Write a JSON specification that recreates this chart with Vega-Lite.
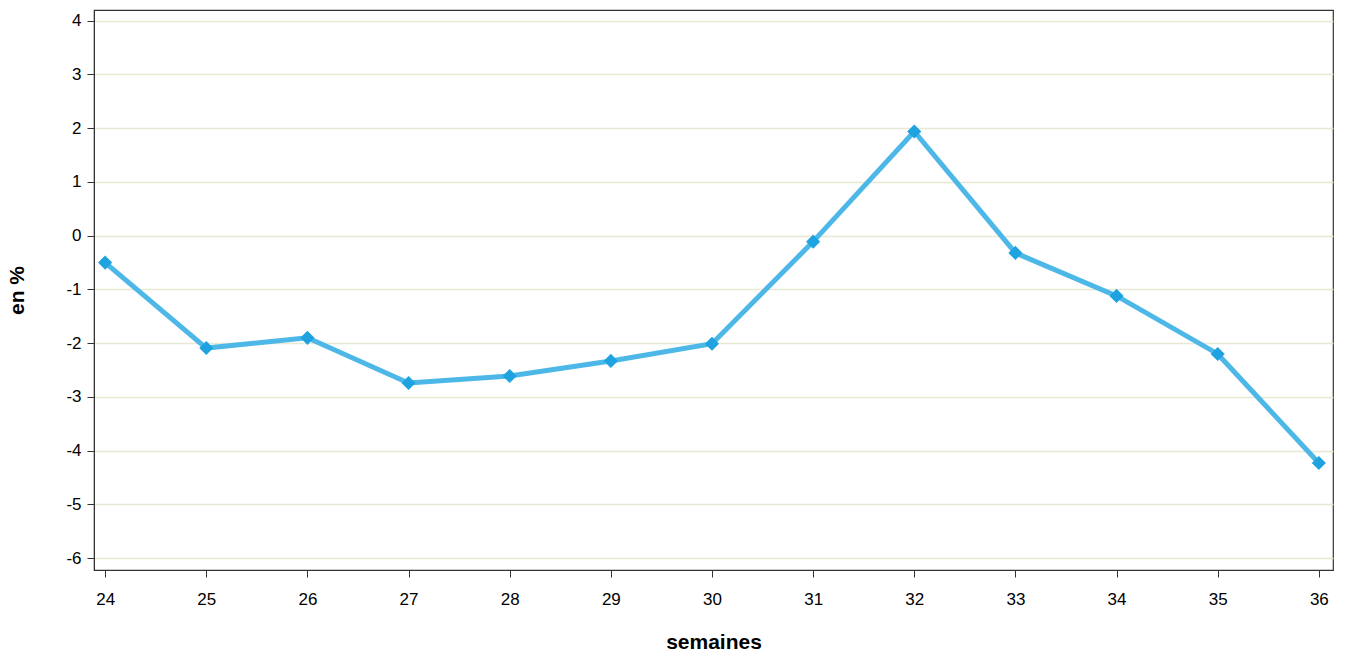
{
"$schema":"https://vega.github.io/schema/vega-lite/v6.json",
"autosize":{"type":"none"},
"padding":{"left":94,"top":10,"right":12,"bottom":85},
"width":1239,"height":560,
"background":"white",
"config":{"font":"Liberation Sans","view":{"stroke":"#333","strokeWidth":1.2},
"axis":{"labelFontSize":17,"labelColor":"#000","titleFontSize":21,"titleFontWeight":"bold","titleColor":"#000","domainColor":"#333","tickColor":"#333","tickSize":7}},
"data":{"values":[
{"s":24,"v":-0.50},{"s":25,"v":-2.09},{"s":26,"v":-1.90},{"s":27,"v":-2.74},{"s":28,"v":-2.61},{"s":29,"v":-2.33},{"s":30,"v":-2.01},{"s":31,"v":-0.11},{"s":32,"v":1.94},{"s":33,"v":-0.32},{"s":34,"v":-1.12},{"s":35,"v":-2.20},{"s":36,"v":-4.23}]},
"encoding":{
"x":{"field":"s","type":"quantitative","scale":{"domain":[23.89,36.14],"nice":false,"zero":false},"axis":{"values":[24,25,26,27,28,29,30,31,32,33,34,35,36],"title":"semaines","grid":false,"titlePadding":24,"labelPadding":14}},
"y":{"field":"v","type":"quantitative","scale":{"domain":[-6.22,4.2],"nice":false,"zero":false},"axis":{"values":[-6,-5,-4,-3,-2,-1,0,1,2,3,4],"labelExpr":"replace(datum.label,'−','-')","title":"en %","grid":true,"gridColor":"#e8e8d4","gridWidth":1.5,"titlePadding":38,"labelPadding":6}}},
"layer":[
{"mark":{"type":"line","color":"#4db8e8","strokeWidth":5}},
{"mark":{"type":"point","shape":"diamond","filled":true,"color":"#1fa3e0","size":200,"opacity":1}}
]}
